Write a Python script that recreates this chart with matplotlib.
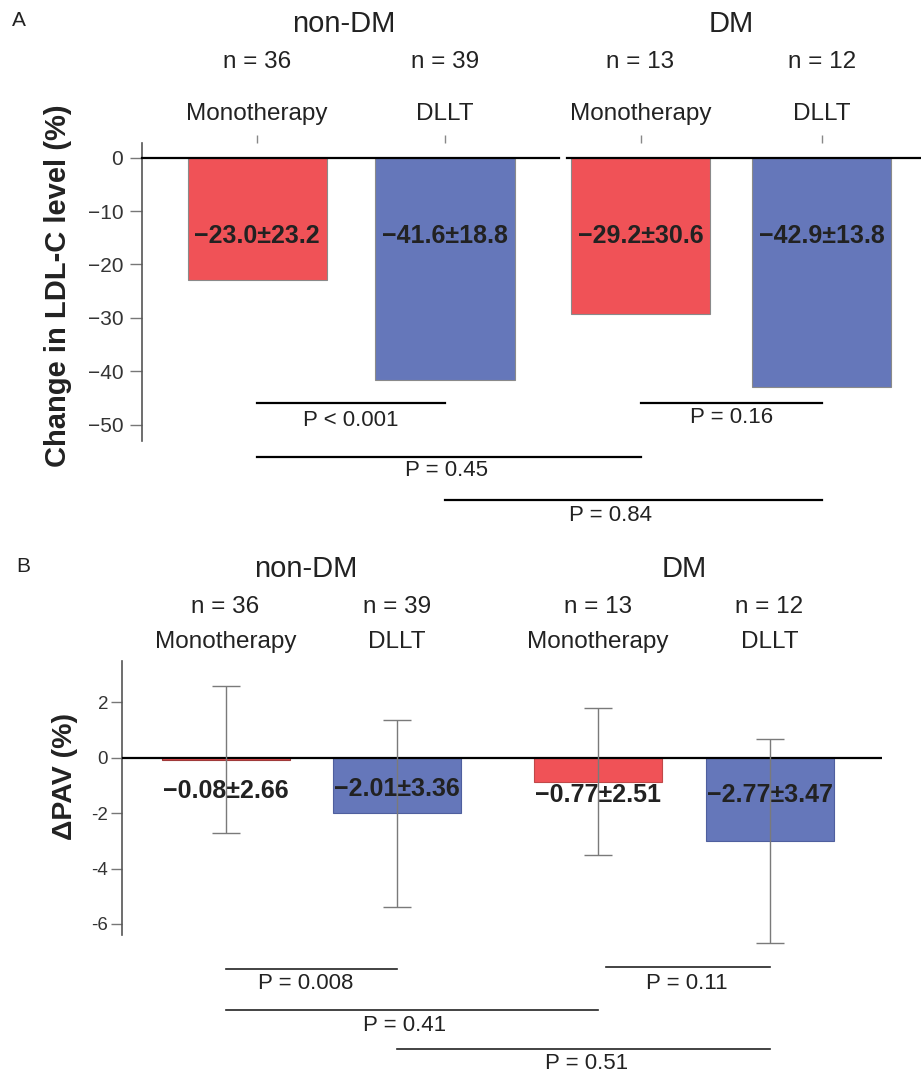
import matplotlib
matplotlib.use("Agg")
import matplotlib.pyplot as plt

plt.rcParams['font.family'] = ['Liberation Sans', 'DejaVu Sans']

# data
groups = ["non-DM", "DM"]
treatments = ["Monotherapy", "DLLT", "Monotherapy", "DLLT"]
n_labels = ["n = 36", "n = 39", "n = 13", "n = 12"]

ldl_change = [-23.0, -41.6, -29.2, -42.9]
ldl_text = ["\u221223.0\u00b123.2", "\u221241.6\u00b118.8", "\u221229.2\u00b130.6", "\u221242.9\u00b113.8"]
ldl_pairs = [(0, 1), (2, 3), (0, 2), (1, 3)]
ldl_p = ["P < 0.001", "P = 0.16", "P = 0.45", "P = 0.84"]

pav_change = [-0.08, -2.00, -0.89, -2.99]
pav_err_low = [-2.73, -5.38, -3.52, -6.69]
pav_err_high = [2.60, 1.35, 1.78, 0.68]
pav_text = ["\u22120.08\u00b12.66", "\u22122.01\u00b13.36", "\u22120.77\u00b12.51", "\u22122.77\u00b13.47"]
pav_pairs = [(0, 1), (2, 3), (0, 2), (1, 3)]
pav_p = ["P = 0.008", "P = 0.11", "P = 0.41", "P = 0.51"]

ldl_ticks = [0, -10, -20, -30, -40, -50]
ldl_ticklabels = ["0", "\u221210", "\u221220", "\u221230", "\u221240", "\u221250"]
pav_ticks = [2, 0, -2, -4, -6]
pav_ticklabels = ["2", "0", "-2", "-4", "-6"]

bar_colors = ["#f05257", "#6577ba", "#f05257", "#6577ba"]
txt = "#222222"

fig = plt.figure(figsize=(9.21, 10.77), dpi=100)

# ---------------- Panel A ----------------
pos_a = [0, 1, 2.04, 3.005]
ax = fig.add_axes([0.1542, 0.5905, 0.8458, 0.2767])
ax.bar(pos_a, ldl_change, width=0.74, color=bar_colors, edgecolor="#8a8a8a", linewidth=0.8, zorder=2)
ax.set_xlim(-0.612, 3.532)
ax.set_ylim(-53.07, 2.73)
for s in ["top", "right", "bottom"]:
    ax.spines[s].set_visible(False)
ax.spines["left"].set_color("#555555")
ax.spines["left"].set_linewidth(1.2)
ax.set_yticks(ldl_ticks)
ax.set_yticklabels(ldl_ticklabels, fontsize=15, color="#333333")
ax.tick_params(axis="y", length=8.5, width=1, color="#777777", pad=5)
ax.xaxis.tick_top()
ax.set_xticks(pos_a)
ax.set_xticklabels([])
ax.tick_params(axis="x", length=6, width=1, color="#888888", pad=0)

# zero line with a small break between the groups
ax.plot([-0.612, 1.606], [0, 0], color="black", lw=1.6, zorder=3, clip_on=False)
ax.plot([1.649, 3.532], [0, 0], color="black", lw=1.6, zorder=3, clip_on=False)

ax.text(-0.108, 0.52, "Change in LDL-C level (%)", transform=ax.transAxes, rotation=90,
        ha="center", va="center", fontsize=21, fontweight="bold", color=txt)

for i in range(4):
    ax.text(pos_a[i], 8.15, treatments[i], ha="center", va="center", fontsize=17.5, color=txt)
    ax.text(pos_a[i], 17.9, n_labels[i], ha="center", va="center", fontsize=17.5, color=txt)
    ax.text(pos_a[i], -14.7, ldl_text[i], ha="center", va="center", fontsize=18,
            fontweight="bold", color=txt, zorder=4)
ax.text((pos_a[0] + pos_a[1]) / 2 - 0.04, 25.0, groups[0], ha="center", va="center", fontsize=21, color=txt)
ax.text((pos_a[2] + pos_a[3]) / 2, 25.0, groups[1], ha="center", va="center", fontsize=21, color=txt)

line_y_a = [-45.9, -45.9, -56.0, -64.2]
text_y_a = [-49.2, -48.7, -58.6, -67.0]
text_dx_a = [0, 0, -0.01, -0.12]
for k, (i, j) in enumerate(ldl_pairs):
    ax.plot([pos_a[i], pos_a[j]], [line_y_a[k]] * 2, color="black", lw=1.6, clip_on=False)
    ax.text((pos_a[i] + pos_a[j]) / 2 + text_dx_a[k], text_y_a[k], ldl_p[k],
            ha="center", va="center", fontsize=16, color=txt)

fig.text(19 / 921, 1 - 21 / 1077, "A", ha="center", va="center", fontsize=15, color=txt)

# ---------------- Panel B ----------------
pos_b = [0, 1, 2.172, 3.172]
bx = fig.add_axes([0.1325, 0.1318, 0.8252, 0.2544])
edge_b = ["#a03a3a", "#4f5f9e", "#c04848", "#4f5f9e"]
bx.bar(pos_b, pav_change, width=0.746, color=bar_colors, edgecolor=edge_b, linewidth=0.8, zorder=2)
err_lo = [m - lo for m, lo in zip(pav_change, pav_err_low)]
err_hi = [hi - m for m, hi in zip(pav_change, pav_err_high)]
bx.errorbar(pos_b, pav_change, yerr=[err_lo, err_hi], fmt="none", ecolor="#7a7a7a",
            elinewidth=1.0, capsize=10, capthick=1.0, zorder=5, clip_on=False)
bx.set_xlim(-0.6035, 3.828)
bx.set_ylim(-6.40, 3.49)
for s in ["top", "right", "bottom"]:
    bx.spines[s].set_visible(False)
bx.spines["left"].set_color("#555555")
bx.spines["left"].set_linewidth(1.2)
bx.set_xticks([])
bx.set_yticks(pav_ticks)
bx.set_yticklabels(pav_ticklabels, fontsize=13.5, color="#333333")
bx.tick_params(axis="y", length=8, width=1, color="#777777", pad=2)
bx.axhline(0, color="black", lw=1.6, zorder=4)

bx.text(-0.075, 0.577, "\u0394PAV (%)", transform=bx.transAxes, rotation=90,
        ha="center", va="center", fontsize=20.5, fontweight="bold", color=txt)

label_y_b = [-1.20, -1.13, -1.34, -1.34]
for i in range(4):
    bx.text(pos_b[i], 4.18, treatments[i], ha="center", va="center", fontsize=17.5, color=txt)
    bx.text(pos_b[i], 5.44, n_labels[i], ha="center", va="center", fontsize=17.5, color=txt)
    bx.text(pos_b[i], label_y_b[i], pav_text[i], ha="center", va="center", fontsize=18,
            fontweight="bold", color=txt, zorder=3)
bx.text((pos_b[0] + pos_b[1]) / 2 - 0.035, 6.82, groups[0], ha="center", va="center", fontsize=21, color=txt)
bx.text((pos_b[2] + pos_b[3]) / 2, 6.82, groups[1], ha="center", va="center", fontsize=21, color=txt)

line_y_b = [-7.62, -7.55, -9.10, -10.50]
text_y_b = [-8.15, -8.15, -9.67, -11.05]
text_dx_b = [-0.035, 0.02, -0.04, 0.02]
line_dx_b = [0, 0.045, 0, 0]
for k, (i, j) in enumerate(pav_pairs):
    bx.plot([pos_b[i] + line_dx_b[k], pos_b[j]], [line_y_b[k]] * 2, color="#222222", lw=1.2, clip_on=False)
    bx.text((pos_b[i] + pos_b[j]) / 2 + text_dx_b[k], text_y_b[k], pav_p[k],
            ha="center", va="center", fontsize=16, color=txt)

fig.text(23 / 921, 1 - 566 / 1077, "B", ha="center", va="center", fontsize=15, color=txt)

fig.savefig("out.png", dpi=100, facecolor="white")
